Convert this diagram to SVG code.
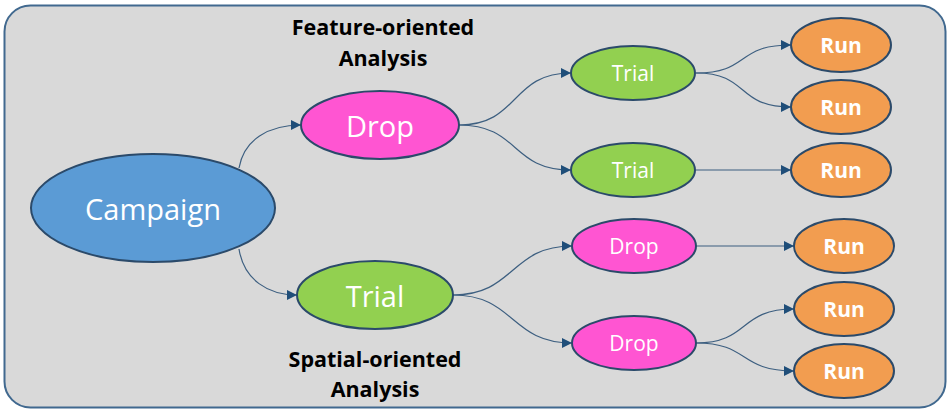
<svg xmlns="http://www.w3.org/2000/svg" width="950" height="410" viewBox="0 0 950 410">
<defs>
<marker id="arr" viewBox="0 0 10 10" refX="10" refY="5" markerWidth="10" markerHeight="10" markerUnits="userSpaceOnUse" orient="auto">
<path d="M0,0 L10,5 L0,10 Z" fill="#1f4e79"/>
</marker>
<style>
.node{stroke:#2b4a6a;stroke-width:2}
.camp{fill:#5b9bd5}
.drop{fill:#ff55d2}
.trial{fill:#92d050}
.run{fill:#f29d50}
.t{font-family:"Open Sans","Noto Sans","Liberation Sans",sans-serif;fill:#fff;text-anchor:middle;dominant-baseline:central}
.big{font-size:29px}
.mid{font-size:21px}
.runt{font-size:21px;font-weight:bold}
.lbl{font-family:"Open Sans","Noto Sans","Liberation Sans",sans-serif;font-size:21.5px;font-weight:bold;fill:#000;text-anchor:middle}
.c{fill:none;stroke:#3d5f80;stroke-width:1.2;marker-end:url(#arr)}
</style>
</defs>
<rect x="4.5" y="5.5" width="941" height="402" rx="26" ry="26" fill="#d9d9d9" stroke="#41698f" stroke-width="2"/>
<text class="lbl" x="383" y="35">Feature-oriented</text>
<text class="lbl" x="383" y="66">Analysis</text>
<text class="lbl" x="375" y="367">Spatial-oriented</text>
<text class="lbl" x="375" y="397">Analysis</text>
<g id="connectors">
<path class="c" d="M239,168 C244,140 268,125 301,125"/>
<path class="c" d="M239,249 C244,280 268,295 297,295"/>
<path class="c" d="M459,125 C520,125 510,73 571,73"/>
<path class="c" d="M459,125 C520,125 510,170 571,170"/>
<path class="c" d="M453,295 C515,295 510,246 572,246"/>
<path class="c" d="M453,295 C515,295 510,343 572,343"/>
<path class="c" d="M696,73 C750,73 735,45 791,45"/>
<path class="c" d="M696,73 C750,73 735,107 791,107"/>
<path class="c" d="M696,170 L791,170"/>
<path class="c" d="M696,246 L794,246"/>
<path class="c" d="M696,343 C750,343 738,309 794,309"/>
<path class="c" d="M696,343 C750,343 738,371 794,371"/>
</g>
<g id="campaign"><ellipse class="node camp" cx="153" cy="208" rx="122" ry="54"/><text class="t big" x="153" y="208">Campaign</text></g>
<g id="drop-top"><ellipse class="node drop" cx="380" cy="125" rx="79" ry="34"/><text class="t big" x="380" y="125">Drop</text></g>
<g id="trial-bottom"><ellipse class="node trial" cx="375" cy="295" rx="78" ry="34"/><text class="t big" x="375" y="295">Trial</text></g>
<g id="trial-1"><ellipse class="node trial" cx="633" cy="73" rx="62" ry="27"/><text class="t mid" x="633" y="73">Trial</text></g>
<g id="trial-2"><ellipse class="node trial" cx="633" cy="170" rx="62" ry="27"/><text class="t mid" x="633" y="170">Trial</text></g>
<g id="drop-1"><ellipse class="node drop" cx="634" cy="246" rx="62" ry="27"/><text class="t mid" x="634" y="246">Drop</text></g>
<g id="drop-2"><ellipse class="node drop" cx="634" cy="343" rx="62" ry="27"/><text class="t mid" x="634" y="343">Drop</text></g>
<g id="run-1"><ellipse class="node run" cx="841" cy="45" rx="50" ry="27"/><text class="t runt" x="841" y="45">Run</text></g>
<g id="run-2"><ellipse class="node run" cx="841" cy="107" rx="50" ry="27"/><text class="t runt" x="841" y="107">Run</text></g>
<g id="run-3"><ellipse class="node run" cx="841" cy="170" rx="50" ry="27"/><text class="t runt" x="841" y="170">Run</text></g>
<g id="run-4"><ellipse class="node run" cx="844" cy="246" rx="50" ry="27"/><text class="t runt" x="844" y="246">Run</text></g>
<g id="run-5"><ellipse class="node run" cx="844" cy="309" rx="50" ry="27"/><text class="t runt" x="844" y="309">Run</text></g>
<g id="run-6"><ellipse class="node run" cx="844" cy="371" rx="50" ry="27"/><text class="t runt" x="844" y="371">Run</text></g>
</svg>
